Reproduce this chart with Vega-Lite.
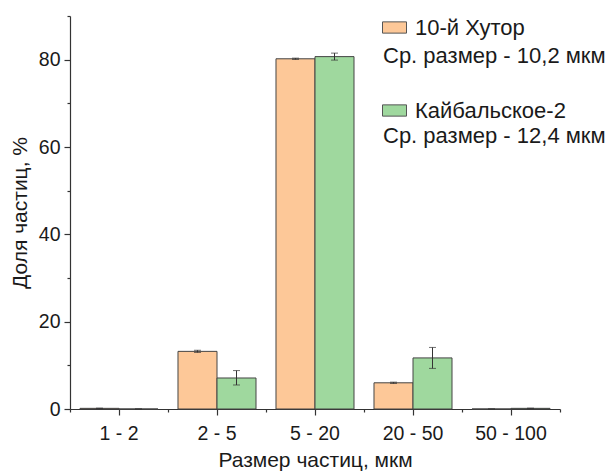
{
  "$schema": "https://vega.github.io/schema/vega-lite/v6.json",
  "autosize": {"type": "none"},
  "padding": {"left": 70, "top": 16, "right": 50, "bottom": 62},
  "width": 490,
  "height": 393,
  "background": "white",
  "config": {
    "view": {"stroke": null},
    "font": "Liberation Sans",
    "axis": {
      "labelFont": "Liberation Sans", "titleFont": "Liberation Sans",
      "labelFontSize": 19.5, "titleFontSize": 21, "titleFontWeight": "normal",
      "labelColor": "#1a1a1a", "titleColor": "#1a1a1a",
      "domainColor": "#333", "tickColor": "#333", "domainWidth": 1.2, "tickWidth": 1.2, "grid": false
    },
    "legend": {"padding": 0, "labelFont": "Liberation Sans", "labelFontSize": 22, "labelColor": "#1a1a1a", "labelLimit": 400}
  },
  "data": {
    "values": [
      {"size": "1 - 2", "series": "10-й Хутор", "note": "Ср. размер - 10,2 мкм", "value": 0.15, "lo": 0.1, "hi": 0.2},
      {"size": "1 - 2", "series": "Кайбальское-2", "note": "Ср. размер - 12,4 мкм", "value": 0, "lo": 0, "hi": 0},
      {"size": "2 - 5", "series": "10-й Хутор", "note": "Ср. размер - 10,2 мкм", "value": 13.2, "lo": 12.95, "hi": 13.45},
      {"size": "2 - 5", "series": "Кайбальское-2", "note": "Ср. размер - 12,4 мкм", "value": 7.1, "lo": 5.5, "hi": 8.8},
      {"size": "5 - 20", "series": "10-й Хутор", "note": "Ср. размер - 10,2 мкм", "value": 80.2, "lo": 80.05, "hi": 80.35},
      {"size": "5 - 20", "series": "Кайбальское-2", "note": "Ср. размер - 12,4 мкм", "value": 80.7, "lo": 79.9, "hi": 81.5},
      {"size": "20 - 50", "series": "10-й Хутор", "note": "Ср. размер - 10,2 мкм", "value": 6.0, "lo": 5.85, "hi": 6.15},
      {"size": "20 - 50", "series": "Кайбальское-2", "note": "Ср. размер - 12,4 мкм", "value": 11.7, "lo": 9.3, "hi": 14.1},
      {"size": "50 - 100", "series": "10-й Хутор", "note": "Ср. размер - 10,2 мкм", "value": 0, "lo": 0, "hi": 0},
      {"size": "50 - 100", "series": "Кайбальское-2", "note": "Ср. размер - 12,4 мкм", "value": 0.15, "lo": 0.1, "hi": 0.2}
    ]
  },
  "layer": [
    {
      "mark": {"type": "bar", "stroke": "#444", "strokeWidth": 1},
      "encoding": {
        "x": {
          "field": "size", "type": "nominal", "sort": null,
          "scale": {"paddingInner": 0, "paddingOuter": 0},
          "axis": {"title": "Размер частиц, мкм", "labelAngle": 0, "tickSize": 6, "labelPadding": 9, "titlePadding": 7}
        },
        "xOffset": {
          "field": "series", "type": "nominal",
          "scale": {"domain": ["10-й Хутор", "Кайбальское-2"], "paddingInner": 0, "paddingOuter": 0.256}
        },
        "y": {
          "field": "value", "type": "quantitative",
          "scale": {"domain": [0, 90], "nice": false},
          "axis": {
            "title": "Доля частиц, %",
            "values": [0, 10, 20, 30, 40, 50, 60, 70, 80, 90],
            "labelExpr": "datum.value % 20 == 0 ? datum.label : ''",
            "tickSize": {"condition": {"test": "datum.value % 20 == 0", "value": 6}, "value": 3},
            "labelPadding": 4, "titlePadding": 8
          }
        },
        "color": {
          "field": "series", "type": "nominal",
          "scale": {"domain": ["10-й Хутор", "Кайбальское-2"], "range": ["#FDC898", "#9FD89E"]},
          "legend": {
            "orient": "none", "legendX": 312, "legendY": -1, "title": null,
            "symbolType": "M-1,-0.47H1V0.47H-1Z", "symbolSize": 576,
            "symbolStrokeColor": "#555", "symbolStrokeWidth": 1,
            "labelOffset": 8, "rowPadding": 59
          }
        },
        "opacity": {
          "field": "note", "type": "nominal",
          "scale": {"domain": ["Ср. размер - 10,2 мкм", "Ср. размер - 12,4 мкм"], "range": [1, 1]},
          "legend": {
            "orient": "none", "legendX": 312, "legendY": 29, "title": null,
            "symbolSize": 0, "symbolOpacity": 0, "symbolStrokeWidth": 0,
            "labelOffset": -21, "rowPadding": 58
          }
        }
      }
    },
    {
      "mark": {"type": "rule", "color": "#333", "strokeWidth": 1},
      "encoding": {
        "x": {
          "field": "size", "type": "nominal", "sort": null,
          "axis": {"orient": "bottom", "tickBand": "extent", "labels": false, "domain": false, "tickSize": 3, "title": null}
        },
        "xOffset": {"field": "series", "type": "nominal"},
        "y": {"field": "lo", "type": "quantitative"},
        "y2": {"field": "hi"}
      }
    },
    {
      "mark": {"type": "tick", "color": "#333", "thickness": 1, "size": 7},
      "encoding": {
        "x": {"field": "size", "type": "nominal", "sort": null, "axis": null},
        "xOffset": {"field": "series", "type": "nominal"},
        "y": {"field": "lo", "type": "quantitative"}
      }
    },
    {
      "mark": {"type": "tick", "color": "#333", "thickness": 1, "size": 7},
      "encoding": {
        "x": {"field": "size", "type": "nominal", "sort": null, "axis": null},
        "xOffset": {"field": "series", "type": "nominal"},
        "y": {"field": "hi", "type": "quantitative"}
      }
    }
  ],
  "resolve": {"axis": {"x": "independent"}}
}
